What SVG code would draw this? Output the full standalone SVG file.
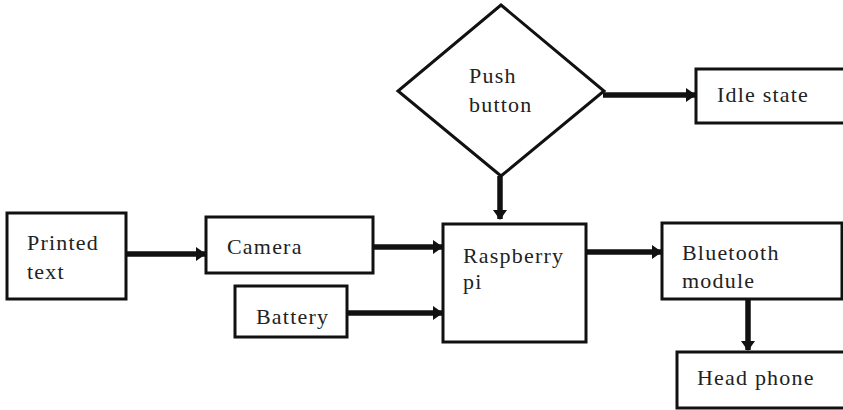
<svg xmlns="http://www.w3.org/2000/svg" width="843" height="410" viewBox="0 0 843 410">
<style>
.box{fill:#fff;stroke:#111;stroke-width:3}
.t{font-family:'Liberation Serif','Times New Roman',serif;font-size:22px;fill:#222;letter-spacing:1.2px}
.c{stroke:#111;stroke-width:5.5;fill:none}
</style>
<defs>
<marker id="ah" markerUnits="userSpaceOnUse" markerWidth="10" markerHeight="14" refX="9" refY="7" orient="auto">
<path d="M0,0 L10,7 L0,14 Z" fill="#111"/>
</marker>
</defs>
<rect width="843" height="410" fill="#fff"/>
<g id="connectors">
<line class="c" x1="126" y1="254" x2="205" y2="254" marker-end="url(#ah)"/>
<line class="c" x1="373" y1="247" x2="442" y2="247" marker-end="url(#ah)"/>
<line class="c" x1="347" y1="313" x2="442" y2="313" marker-end="url(#ah)"/>
<line class="c" x1="586" y1="252" x2="661" y2="252" marker-end="url(#ah)"/>
<line class="c" x1="603" y1="95" x2="695" y2="95" marker-end="url(#ah)"/>
<line class="c" x1="500" y1="176" x2="500" y2="219" marker-end="url(#ah)"/>
<line class="c" x1="748" y1="299" x2="748" y2="350" marker-end="url(#ah)"/>
</g>
<g id="printed">
<rect class="box" x="7" y="213" width="119" height="86"/>
<text class="t" x="27" y="250">Printed</text>
<text class="t" x="27" y="279">text</text>
</g>
<g id="camera">
<rect class="box" x="206" y="217" width="167" height="56"/>
<text class="t" x="227" y="254">Camera</text>
</g>
<g id="battery">
<rect class="box" x="235" y="286" width="112" height="51"/>
<text class="t" x="256" y="324">Battery</text>
</g>
<g id="raspberry">
<rect class="box" x="443" y="224" width="143" height="118"/>
<text class="t" x="463" y="263">Raspberry</text>
<text class="t" x="463" y="289">pi</text>
</g>
<g id="pushbutton">
<polygon class="box" points="501,5 604,91 501,176 398,91"/>
<text class="t" x="469" y="83">Push</text>
<text class="t" x="469" y="112">button</text>
</g>
<g id="idle">
<rect class="box" x="696" y="69" width="160" height="54"/>
<text class="t" x="717" y="102">Idle state</text>
</g>
<g id="bluetooth">
<rect class="box" x="662" y="223" width="180" height="76"/>
<text class="t" x="682" y="260">Bluetooth</text>
<text class="t" x="682" y="288">module</text>
</g>
<g id="headphone">
<rect class="box" x="677" y="352" width="180" height="56"/>
<text class="t" x="697" y="385">Head phone</text>
</g>
</svg>
